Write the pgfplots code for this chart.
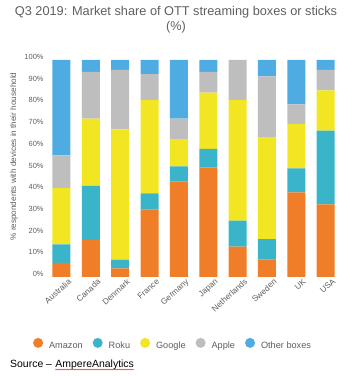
\documentclass[border=0pt]{standalone}
\usepackage{pgfplots}
\pgfplotsset{compat=1.18}
\usepackage{pgfplotstable}
\usepackage{fontspec}
\setmainfont{Liberation Sans}
\usetikzlibrary{decorations.pathmorphing}
\definecolor{amazon}{RGB}{240,125,40}
\definecolor{roku}{RGB}{58,180,200}
\definecolor{google}{RGB}{242,230,35}
\definecolor{apple}{RGB}{190,190,190}
\definecolor{other}{RGB}{78,172,226}
\definecolor{txt}{RGB}{95,95,95}
\pgfplotstableread{
x Amazon Roku Google Apple Other
0 6.5 8.5 26 15 44
1 17 25 31 21.5 5.5
2 4 4 60 27.5 4.5
3 31 7.5 43 12 6.5
4 44 7 12.5 9.5 27
5 50.5 8.5 26 9.5 5.5
6 14 12 55.5 18.5 0
7 8 9.5 47 28 7.5
8 39 11 20.5 9 20.5
9 33.5 34 18.5 9.5 4.5
}\datatable
\begin{document}
\begin{tikzpicture}[x=1bp,y=1bp]
\useasboundingbox (0,0) rectangle (357,376);
\node[text=txt,font=\fontsize{12.8}{14.5}\selectfont,align=center] at (176,356.5) {Q3 2019: Market share of OTT streaming boxes or sticks\\(\%)};
\node[text=txt,font=\fontsize{8.2}{9}\selectfont,rotate=90] at (14,219.5) {\% respondents with devices in their household};
\begin{axis}[
  at={(46.8bp,99bp)}, anchor=south west,
  scale only axis, width=293.6bp, height=217bp,
  ybar stacked, bar width=18bp,
  xmin=-0.5, xmax=9.5, ymin=0, ymax=100,
  axis line style={draw=none},
  major tick length=0pt,
  xtick={0,...,9},
  xticklabels={Australia,Canada,Denmark,France,Germany,Japan,Netherlands,Sweden,UK,USA},
  xticklabel style={rotate=42,anchor=north east,font=\fontsize{8.3}{9}\selectfont,text=txt,inner sep=1pt,yshift=-4bp,xshift=5bp},
  ytick={0,10,...,100},
  yticklabel={\pgfmathprintnumber{\tick}\%},
  yticklabel style={font=\fontsize{7.5}{8}\selectfont,text=txt,yshift=3bp,inner sep=1pt,xshift=-2bp},
  /pgf/number format/assume math mode=true,
  legend style={at={(0.43,-0.313)},anchor=center,draw=none,legend columns=5,font=\fontsize{9.2}{10}\selectfont,text=txt,
    /tikz/every odd column/.append style={column sep=4bp},
    /tikz/every even column/.append style={column sep=8bp}},
  legend image code/.code={\fill[#1] (0.3em,0.3em) circle (5bp);},
]
\addplot[fill=amazon,draw=none] table[x=x,y=Amazon]{\datatable};
\addplot[fill=roku,draw=none] table[x=x,y=Roku]{\datatable};
\addplot[fill=google,draw=none] table[x=x,y=Google]{\datatable};
\addplot[fill=apple,draw=none] table[x=x,y=Apple]{\datatable};
\addplot[fill=other,draw=none] table[x=x,y=Other]{\datatable};
\legend{Amazon,Roku,Google,Apple,Other boxes}
\end{axis}
\node[anchor=base west,font=\fontsize{10.5}{11}\selectfont,inner sep=0pt] (src) at (10,9) {Source --};
\node[anchor=base west,font=\fontsize{10.5}{11}\selectfont,inner sep=0pt,xshift=3bp] (aa) at (src.base east) {AmpereAnalytics};
\draw[red,line width=0.4bp,decorate,decoration={snake,amplitude=0.5bp,segment length=2bp}] ([yshift=-2.5bp]aa.base west) -- ([yshift=-2.5bp]aa.base east);
\end{tikzpicture}
\end{document}
